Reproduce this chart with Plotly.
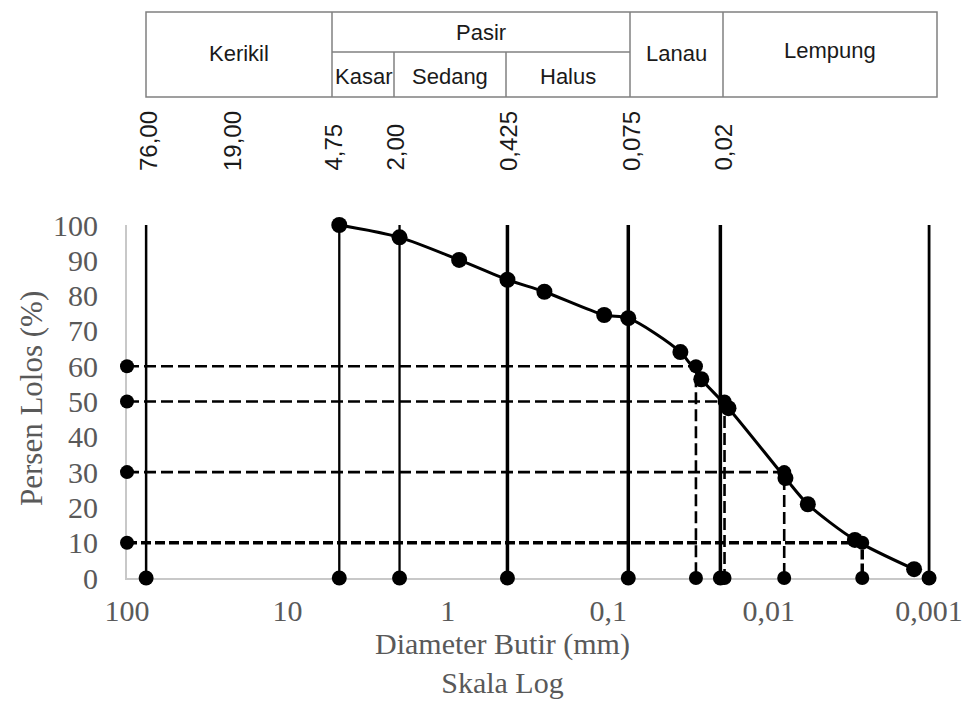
import plotly.graph_objects as go

# ---------------- data ----------------
diameter_mm = [4.75, 2.0, 0.85, 0.425, 0.25, 0.106, 0.075, 0.0355, 0.0263, 0.0178,
               0.00786, 0.0057, 0.0029, 0.00124]
percent_pass = [100, 96.5, 90.1, 84.5, 81.1, 74.5, 73.6, 64.0, 56.3, 48.1,
                28.3, 20.9, 10.8, 2.5]

boundary_sizes = [76, 4.75, 2.0, 0.425, 0.075, 0.02, 0.001]
boundary_widths = [2.5, 2.3, 2.3, 3.5, 3.5, 3.5, 2.8]

d_levels = [60, 50, 30, 10]
d_values = [0.0284, 0.01884, 0.0080, 0.00261]

x_tickvals = [100, 10, 1, 0.1, 0.01, 0.001]
x_ticktext = ["100", "10", "1", "0,1", "0,01", "0,001"]
y_tickvals = list(range(0, 101, 10))

header_size_labels = ["76,00", "19,00", "4,75", "2,00", "0,425", "0,075", "0,02"]

# ---------------- layout geometry (pixels) ----------------
FW, FH = 968, 722
L, R, T, B = 127, 37, 225, 144
PW = FW - L - R
PH = FH - T - B
Y0 = FH - B


def xp(p):
    return (p - L) / PW


def yp(p):
    return (Y0 - p) / PH


SERIF = "Liberation Serif, Times New Roman, serif"
SANS = "Liberation Sans, Arial, sans-serif"
GRAY = "#595959"
INK = "#1a1a1a"

fig = go.Figure()

# boundary vertical lines
for d, w in zip(boundary_sizes, boundary_widths):
    fig.add_trace(go.Scatter(
        x=[d, d], y=[0, 100], mode="lines",
        line=dict(color="black", width=w),
        showlegend=False, hoverinfo="skip"))
fig.add_trace(go.Scatter(
    x=boundary_sizes, y=[0] * len(boundary_sizes), mode="markers",
    marker=dict(color="black", size=15), cliponaxis=False,
    showlegend=False, hoverinfo="skip"))

# D60 / D50 / D30 / D10 construction lines
for lvl, d in zip(d_levels, d_values):
    wid = 3.5 if lvl == 10 else 2.6
    dash = "10px,4px" if lvl == 10 else "12px,5px"
    fig.add_trace(go.Scatter(
        x=[100, d, d], y=[lvl, lvl, 0], mode="lines",
        line=dict(color="black", width=wid, dash=dash),
        showlegend=False, hoverinfo="skip"))
    fig.add_trace(go.Scatter(
        x=[100, d, d], y=[lvl, lvl, 0], mode="markers",
        marker=dict(color="black", size=14), cliponaxis=False,
        showlegend=False, hoverinfo="skip"))

# gradation curve
fig.add_trace(go.Scatter(
    x=diameter_mm, y=percent_pass, mode="lines",
    line=dict(color="black", width=3, shape="spline", smoothing=0.8),
    showlegend=False, hoverinfo="skip"))
fig.add_trace(go.Scatter(
    x=diameter_mm, y=percent_pass, mode="markers",
    marker=dict(color="black", size=16), cliponaxis=False,
    showlegend=False))

# ---------------- header table ----------------
LC = "#808080"
LW = 1.5
top, mid, bot = 12, 52, 97
xs = dict(a=146, b=332, c=394, d=506, e=630, f=723, g=937)


def seg(x0, y0, x1, y1):
    fig.add_shape(type="line", xref="paper", yref="paper",
                  x0=xp(x0), y0=yp(y0), x1=xp(x1), y1=yp(y1),
                  line=dict(color=LC, width=LW))


fig.add_shape(type="rect", xref="paper", yref="paper",
              x0=xp(xs["a"]), y0=yp(bot), x1=xp(xs["g"]), y1=yp(top),
              line=dict(color=LC, width=LW))
seg(xs["b"], top, xs["b"], bot)
seg(xs["e"], top, xs["e"], bot)
seg(xs["f"], top, xs["f"], bot)
seg(xs["b"], mid, xs["e"], mid)
seg(xs["c"], mid, xs["c"], bot)
seg(xs["d"], mid, xs["d"], bot)

header_texts = [
    ("Kerikil", (xs["a"] + xs["b"]) / 2, 53),
    ("Pasir", (xs["b"] + xs["e"]) / 2, 33),
    ("Kasar", (xs["b"] + xs["c"]) / 2, 76),
    ("Sedang", (xs["c"] + xs["d"]) / 2, 76),
    ("Halus", (xs["d"] + xs["e"]) / 2, 76),
    ("Lanau", (xs["e"] + xs["f"]) / 2, 53),
    ("Lempung", (xs["f"] + xs["g"]) / 2, 50),
]
for txt, cx, cy in header_texts:
    fig.add_annotation(text=txt, xref="paper", yref="paper", x=xp(cx), y=yp(cy),
                       xanchor="center", yanchor="middle", showarrow=False,
                       font=dict(family=SANS, size=22, color=INK))

label_px = [148, 232, 333, 395, 508, 631, 723]
for txt, cx in zip(header_size_labels, label_px):
    fig.add_annotation(text=txt, xref="paper", yref="paper", x=xp(cx), y=yp(173),
                       xanchor="center", yanchor="bottom", textangle=-90,
                       showarrow=False, font=dict(family=SANS, size=24, color=INK))

# axis titles
fig.add_annotation(text="Persen Lolos (%)", xref="paper", yref="paper",
                   x=xp(31), y=yp(399), xanchor="center", yanchor="middle",
                   textangle=-90, showarrow=False,
                   font=dict(family=SERIF, size=31, color=GRAY))
fig.add_annotation(text="Diameter Butir (mm)<br>Skala Log", xref="paper", yref="paper",
                   x=xp(502), y=yp(663), xanchor="center", yanchor="middle",
                   showarrow=False, font=dict(family=SERIF, size=30, color=GRAY))

fig.update_xaxes(type="log", range=[2, -3.012], tickvals=x_tickvals, ticktext=x_ticktext,
                 showgrid=False, zeroline=False, showline=True, linecolor="#C8C8C8",
                 linewidth=2, ticks="", ticklabelstandoff=5, automargin=False,
                 layer="below traces",
                 tickfont=dict(family=SERIF, size=30, color=GRAY))
fig.update_yaxes(range=[0, 100], tickvals=y_tickvals, showgrid=False, zeroline=False,
                 showline=True, linecolor="#C8C8C8", linewidth=2, ticks="",
                 ticklabelstandoff=21, automargin=False, layer="below traces",
                 tickfont=dict(family=SERIF, size=30, color=GRAY))

fig.update_layout(width=FW, height=FH, margin=dict(l=L, r=R, t=T, b=B),
                  plot_bgcolor="white", paper_bgcolor="white", showlegend=False)

fig.write_html("out.html")
